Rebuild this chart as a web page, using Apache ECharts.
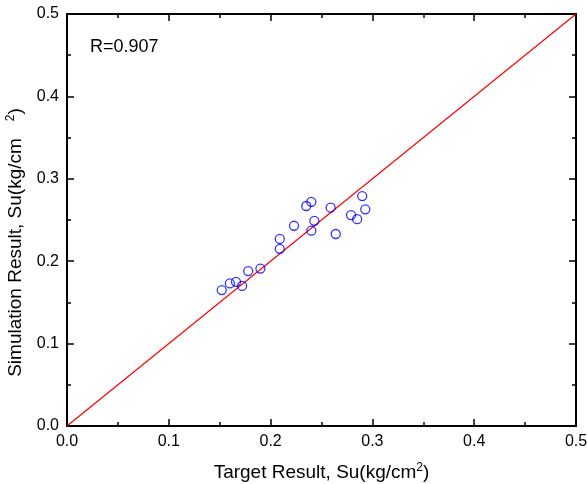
<!DOCTYPE html>
<html>
<head>
<meta charset="utf-8">
<script src="https://cdn.jsdelivr.net/npm/echarts@6/dist/echarts.min.js"></script>
<style>
  html, body { margin: 0; padding: 0; background: #fff; }
  #chart { width: 587px; height: 484px; }
</style>
</head>
<body>
<div id="chart"></div>
<script>
// Target vs simulated undrained shear strength Su (kg/cm2)
const targetSu = [0.152, 0.160, 0.166, 0.172, 0.178, 0.190, 0.209, 0.209, 0.223, 0.235,
                  0.240, 0.240, 0.243, 0.259, 0.264, 0.279, 0.285, 0.290, 0.293];
const simulatedSu = [0.165, 0.173, 0.175, 0.170, 0.188, 0.191, 0.215, 0.227, 0.243, 0.267,
                     0.272, 0.237, 0.249, 0.265, 0.233, 0.256, 0.251, 0.279, 0.263];
// 1:1 reference line
const equalityLine = [[0, 0], [0.5, 0.5]];
const correlationText = 'R=0.907';
const axisMin = 0, axisMax = 0.5, axisStep = 0.1;

const FONT = '"Liberation Sans", Arial, sans-serif';
const points = targetSu.map((x, i) => [x, simulatedSu[i]]);

const frameLine = { show: true, onZero: false, lineStyle: { color: '#000', width: 2 } };
const inTicks = { show: true, inside: true, length: 7, lineStyle: { color: '#000', width: 1.5 } };
const inMinor = { show: true, splitNumber: 2, length: 4, lineStyle: { color: '#000', width: 1.5 } };
const tickLabel = { color: '#000', fontFamily: FONT, fontSize: 16,
                    formatter: v => v.toFixed(1) };
const titleRich = {
  sup: { fontSize: 12, verticalAlign: 'top', lineHeight: 22, fontFamily: FONT, color: '#000' },
  gap: { width: 17 },
  pad: { width: 45 }
};

const chart = echarts.init(document.getElementById('chart'), null, { renderer: 'canvas' });
chart.setOption({
  backgroundColor: '#fff',
  animation: false,
  grid: { left: 67, right: 11, top: 14, bottom: 58, containLabel: false, outerBoundsMode: 'none' },
  xAxis: [
    {
      type: 'value', position: 'bottom', min: axisMin, max: axisMax, interval: axisStep,
      axisLine: frameLine, axisTick: inTicks, minorTick: inMinor,
      axisLabel: Object.assign({ margin: 8 }, tickLabel),
      splitLine: { show: false },
      name: 'Target Result, Su(kg/cm{sup|2})', nameLocation: 'middle', nameGap: 36,
      nameTextStyle: { color: '#000', fontFamily: FONT, fontSize: 19, rich: titleRich }
    },
    {
      type: 'value', position: 'top', min: axisMin, max: axisMax, interval: axisStep,
      axisLine: frameLine, axisTick: inTicks, minorTick: inMinor,
      axisLabel: { show: false }, splitLine: { show: false }
    }
  ],
  yAxis: [
    {
      type: 'value', position: 'left', min: axisMin, max: axisMax, interval: axisStep,
      axisLine: frameLine, axisTick: inTicks, minorTick: inMinor,
      axisLabel: Object.assign({ margin: 8 }, tickLabel),
      splitLine: { show: false },
      name: 'Simulation Result, Su(kg/cm{gap|}{sup|2}){pad|}', nameLocation: 'middle', nameGap: 40,
      nameTextStyle: { color: '#000', fontFamily: FONT, fontSize: 19, rich: titleRich }
    },
    {
      type: 'value', position: 'right', min: axisMin, max: axisMax, interval: axisStep,
      axisLine: frameLine, axisTick: inTicks, minorTick: inMinor,
      axisLabel: { show: false }, splitLine: { show: false }
    }
  ],
  graphic: [
    { type: 'text', left: 90, top: 38,
      style: { text: correlationText, fontFamily: FONT, fontSize: 18, fill: '#000' } }
  ],
  series: [
    {
      type: 'line', data: equalityLine, symbol: 'none', silent: true,
      lineStyle: { color: '#ff0000', width: 1.2 }, z: 2
    },
    {
      type: 'scatter', data: points, symbol: 'circle', symbolSize: 9,
      itemStyle: { color: 'rgba(0,0,0,0)', borderColor: '#0000ff', borderWidth: 1.3 }, z: 3
    }
  ]
});
</script>
</body>
</html>
